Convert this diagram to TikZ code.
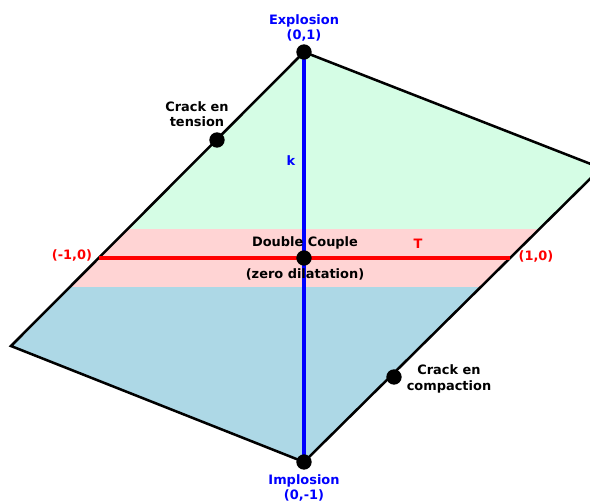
\documentclass[tikz,border=0pt]{standalone}
\usepackage{fontspec}
\setmainfont{DejaVu Sans}
\definecolor{upgreen}{RGB}{213,253,229}
\definecolor{midpink}{RGB}{255,212,212}
\definecolor{lowblue}{RGB}{173,216,230}
\begin{document}
\begin{tikzpicture}[x=0.75pt,y=-0.75pt,
  lbl/.style={font=\bfseries\fontsize{9.7}{11.5}\selectfont, align=center, inner sep=0pt},
  dot/.style={circle, fill=black, inner sep=0pt, minimum size=11.5pt},
  edge/.style={draw=black, line width=1.9pt, line join=miter},
  axisk/.style={draw=blue, line width=2.7pt},
  axist/.style={draw=red, line width=2.7pt}]
\useasboundingbox (0,0) rectangle (590,502);
\clip (0,0) rectangle (590,502);
\coordinate (T) at (304,52);
\coordinate (L) at (11,346);
\coordinate (B) at (304,462);
\coordinate (R) at (601,168);
\coordinate (mL) at (99,258);
\coordinate (mR) at (510,258);
\begin{scope}
  \clip (T) -- (L) -- (B) -- (R) -- cycle;
  \fill[upgreen] (0,0) rectangle (620,229);
  \fill[midpink] (0,229) rectangle (620,287);
  \fill[lowblue] (0,287) rectangle (620,502);
\end{scope}
\draw[edge] (T) -- (L) -- (B) -- (R) -- cycle;
\draw[axisk] (T) -- (B);
\draw[axist] (mL) -- (mR);
\node[dot] (top) at (T) {};
\node[dot] (bot) at (B) {};
\node[dot] (ctr) at (304,258) {};
\node[dot] (ten) at (217,140) {};
\node[dot] (cmp) at (394,377) {};
\node[lbl, text=blue] (expl) at (304,28) {Explosion\\(0,1)};
\node[lbl, text=blue] (impl) at (304,488) {Implosion\\(0,-1)};
\node[lbl] (tenl) at (197,114) {Crack en\\tension};
\node[lbl] (cmpl) at (449,379) {Crack en\\compaction};
\node[lbl, text=blue] (k) at (291,161) {k};
\node[lbl, text=red] (T1) at (418,244) {T};
\node[lbl, text=red] (m1) at (72,256) {(-1,0)};
\node[lbl, text=red] (p1) at (536,257) {(1,0)};
\node[lbl] (dc) at (305,243) {Double Couple};
\node[lbl] (zd) at (305,274) {(zero dilatation)};
\end{tikzpicture}
\end{document}
